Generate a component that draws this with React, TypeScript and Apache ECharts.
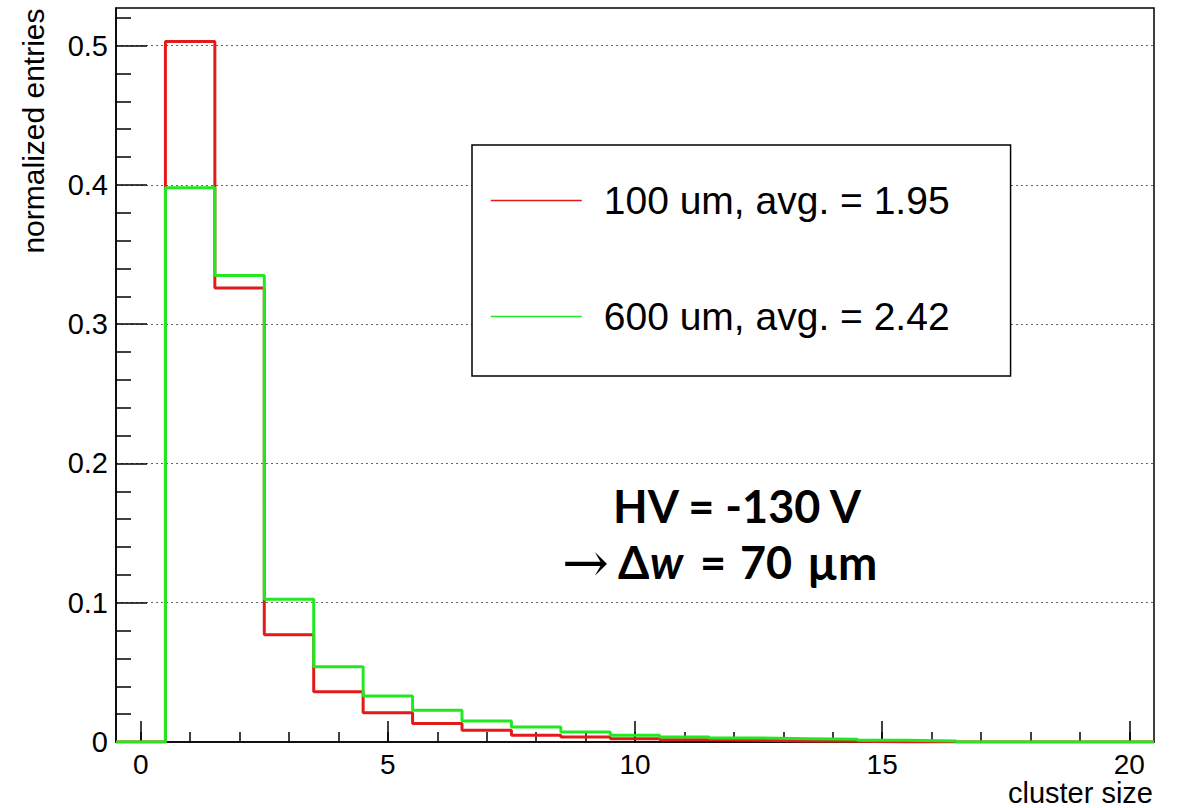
import React, { useEffect, useRef } from "react";
import * as echarts from "echarts";

// ---- data ----
const binCenters = [0, 1, 2, 3, 4, 5, 6, 7, 8, 9, 10, 11, 12, 13, 14, 15, 16, 17, 18, 19, 20];
const red100um = [0, 0.503, 0.326, 0.077, 0.036, 0.021, 0.0132, 0.0084, 0.0048, 0.0036, 0.0024, 0.0017, 0.0012, 0.0008, 0.0005, 0, 0, 0, 0, 0, 0];
const green600um = [0, 0.398, 0.335, 0.1025, 0.054, 0.033, 0.0228, 0.0151, 0.0108, 0.0072, 0.0048, 0.0036, 0.0029, 0.0024, 0.0019, 0.0012, 0.0008, 0, 0, 0, 0];
const seriesNames = ["100 um, avg. = 1.95", "600 um, avg. = 2.42"];
const xMajorTicks = [0, 5, 10, 15, 20];
const xMinorTicks = [0, 1, 2, 3, 4, 5, 6, 7, 8, 9, 10, 11, 12, 13, 14, 15, 16, 17, 18, 19, 20];
const yMajorTicks = [0, 0.1, 0.2, 0.3, 0.4, 0.5];
const yMinorTicks = [0.02, 0.04, 0.06, 0.08, 0.12, 0.14, 0.16, 0.18, 0.22, 0.24, 0.26, 0.28, 0.32, 0.34, 0.36, 0.38, 0.42, 0.44, 0.46, 0.48, 0.52];
const xTitle = "cluster size";
const yTitle = "normalized entries";
const annotationLine1 = "HV = -130 V";

const BIN_WIDTH = 1;
const X_MIN = -0.5;
const X_MAX = 20.5;
const Y_MAX = 0.527;

function histPoints(values: number[]) {
  const pts = binCenters.map((c, i) => [c - BIN_WIDTH / 2, values[i]]);
  const last = binCenters.length - 1;
  pts.push([binCenters[last] + BIN_WIDTH / 2, values[last]]);
  return pts;
}

const FONT = "'Liberation Sans', Arial, Helvetica, sans-serif";
const BOLD_FONT = "Lato, 'Open Sans', sans-serif";

export default function App() {
  const ref = useRef<HTMLDivElement>(null);
  useEffect(() => {
    if (!ref.current) return;
    const chart = echarts.init(ref.current, null, { renderer: "svg" });
    const boldSeg = { fontSize: 45, fontWeight: "bold", fontFamily: BOLD_FONT, fill: "#000", verticalAlign: "middle" };
    const option: any = {
      animation: false,
      backgroundColor: "#ffffff",
      grid: {
        left: 116,
        right: 24,
        top: 8,
        bottom: 66,
        show: true,
        borderColor: "#000",
        borderWidth: 1.5,
        containLabel: false,
        outerBoundsMode: "none",
      },
      xAxis: [
        {
          type: "value",
          min: X_MIN,
          max: X_MAX,
          position: "bottom",
          axisLine: { show: true, onZero: false, lineStyle: { color: "#000", width: 1.5 } },
          axisTick: { show: true, inside: true, length: 21, customValues: xMajorTicks, lineStyle: { color: "#000", width: 1.5 } },
          axisLabel: { show: true, customValues: xMajorTicks, fontSize: 28, color: "#000", fontFamily: FONT, margin: 8 },
          splitLine: { show: false },
        },
        {
          type: "value",
          min: X_MIN,
          max: X_MAX,
          position: "bottom",
          axisLine: { show: false, onZero: false },
          axisTick: { show: true, inside: true, length: 10, customValues: xMinorTicks, lineStyle: { color: "#000", width: 1.5 } },
          axisLabel: { show: false },
          splitLine: { show: false },
        },
      ],
      yAxis: [
        {
          type: "value",
          min: 0,
          max: Y_MAX,
          interval: 0.1,
          position: "left",
          axisLine: { show: true, onZero: false, lineStyle: { color: "#000", width: 1.5 } },
          axisTick: { show: true, inside: true, length: 31, customValues: yMajorTicks, lineStyle: { color: "#000", width: 1.5 } },
          axisLabel: { show: true, customValues: yMajorTicks, fontSize: 29, color: "#000", fontFamily: FONT, margin: 8 },
          splitLine: { show: true, lineStyle: { color: "#666", type: [2, 3], width: 1 } },
        },
        {
          type: "value",
          min: 0,
          max: Y_MAX,
          interval: 0.1,
          position: "left",
          axisLine: { show: false, onZero: false },
          axisTick: { show: true, inside: true, length: 15, customValues: yMinorTicks, lineStyle: { color: "#000", width: 1.5 } },
          axisLabel: { show: false },
          splitLine: { show: false },
        },
      ],
      legend: {
        orient: "vertical",
        left: 472,
        top: 145,
        padding: [36, 61, 40, 18],
        itemWidth: 91,
        itemHeight: 38,
        itemGap: 77,
        backgroundColor: "#fff",
        borderColor: "#000",
        borderWidth: 1.5,
        itemStyle: { opacity: 0 },
        lineStyle: { width: 1.5 },
        textStyle: { fontSize: 39, color: "#000", fontFamily: FONT, padding: [0, 0, 0, 17] },
        data: seriesNames,
      },
      series: [
        {
          name: seriesNames[0],
          type: "line",
          step: "end",
          xAxisIndex: 0,
          yAxisIndex: 0,
          data: histPoints(red100um),
          symbol: "none",
          color: "#e31a1a",
          lineStyle: { color: "#e31a1a", width: 3 },
          z: 3,
        },
        {
          name: seriesNames[1],
          type: "line",
          step: "end",
          xAxisIndex: 0,
          yAxisIndex: 0,
          data: histPoints(green600um),
          symbol: "none",
          color: "#22e822",
          lineStyle: { color: "#22e822", width: 3 },
          z: 4,
        },
      ],
      graphic: [
        {
          type: "text",
          x: 33,
          y: 131,
          rotation: Math.PI / 2,
          style: { text: yTitle, fontSize: 30, fill: "#000", fontFamily: FONT, align: "center", verticalAlign: "middle" },
        },
        {
          type: "text",
          x: 1153,
          y: 793,
          style: { text: xTitle, fontSize: 29, fill: "#000", fontFamily: FONT, align: "right", verticalAlign: "middle" },
        },
        {
          type: "text",
          x: 737,
          y: 506,
          style: { text: annotationLine1, fontSize: 45, fontWeight: "bold", fill: "#000", fontFamily: BOLD_FONT, align: "center", verticalAlign: "middle" },
        },
        {
          type: "text",
          x: 562,
          y: 562,
          style: {
            text: "{a|→}{d|Δ}{i|w}{e|=}{n|70}{b|µm}",
            align: "left",
            verticalAlign: "middle",
            fill: "#000",
            rich: {
              a: { fontSize: 56, width: 56, fontFamily: "'DejaVu Serif', 'Liberation Serif', serif", fill: "#000", verticalAlign: "middle" },
              d: { ...boldSeg, width: 32 },
              i: { ...boldSeg, fontStyle: "italic", width: 50 },
              e: { ...boldSeg, width: 40 },
              n: { ...boldSeg, width: 67 },
              b: { ...boldSeg, fontSize: 47 },
            },
          },
        },
      ],
    };
    chart.setOption(option);
    return () => chart.dispose();
  }, []);
  return (
    <div
      ref={ref}
      style={{ position: "absolute", left: 0, top: 0, width: 1178, height: 808, background: "#fff" }}
    />
  );
}
